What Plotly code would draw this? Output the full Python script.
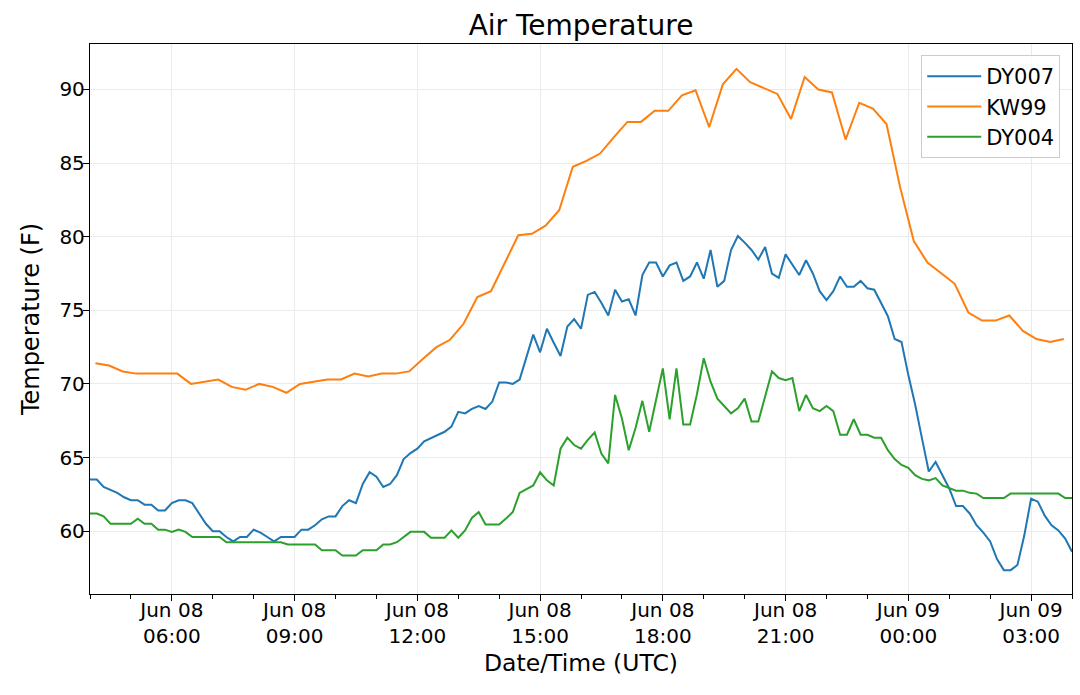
import pandas as pd
import plotly.graph_objects as go

# datos (grados F)
tiempos_dy = pd.date_range("2018-06-08 04:00", periods=145, freq="10min")
tiempos_kw = pd.date_range("2018-06-08 04:08", periods=72, freq="20min")

dy007 = [
    63.5, 63.5, 63.0, 62.8, 62.6, 62.3, 62.1, 62.1, 61.8, 61.8,
    61.4, 61.4, 61.9, 62.1, 62.1, 61.9, 61.2, 60.5, 60.0, 60.0,
    59.6, 59.3, 59.6, 59.6, 60.1, 59.9, 59.6, 59.3, 59.6, 59.6,
    59.6, 60.1, 60.1, 60.4, 60.8, 61.0, 61.0, 61.7, 62.1, 61.9,
    63.2, 64.0, 63.7, 63.0, 63.2, 63.8, 64.9, 65.3, 65.6, 66.1,
    66.3, 66.5, 66.75, 67.1, 68.1, 68.0, 68.3, 68.5, 68.3, 68.8,
    70.1, 70.1, 70.0, 70.3, 71.75, 73.35, 72.15, 73.75, 72.8, 71.9,
    73.9, 74.4, 73.75, 76.05, 76.25, 75.5, 74.65, 76.4, 75.6, 75.75,
    74.65, 77.4, 78.25, 78.25, 77.3, 78.05, 78.25, 77.0, 77.3, 78.25,
    77.15, 79.1, 76.6, 77.0, 79.1, 80.05, 79.6, 79.1, 78.45, 79.3,
    77.5, 77.2, 78.8, 78.1, 77.4, 78.4, 77.5, 76.3, 75.7, 76.3,
    77.3, 76.6, 76.6, 77.0, 76.5, 76.4, 75.5, 74.6, 73.05, 72.85,
    70.6, 68.6, 66.3, 64.05, 64.7, 63.8, 62.9, 61.7, 61.7, 61.2,
    60.4, 59.9, 59.3, 58.1, 57.35, 57.35, 57.7, 59.7, 62.2, 62.0,
    61.05, 60.4, 60.05, 59.5, 58.6,
]

kw99 = [
    71.4, 71.25, 70.85, 70.7, 70.7, 70.7, 70.7, 70.0, 70.15, 70.3,
    69.8, 69.6, 70.0, 69.8, 69.4, 70.0, 70.15, 70.3, 70.3, 70.7,
    70.5, 70.7, 70.7, 70.85, 71.7, 72.5, 73.0, 74.1, 75.9, 76.3,
    78.2, 80.1, 80.2, 80.75, 81.8, 84.75, 85.15, 85.65, 86.75, 87.8,
    87.8, 88.55, 88.55, 89.6, 89.95, 87.45, 90.35, 91.4, 90.5, 90.1,
    89.7, 88.0, 90.85, 90.0, 89.8, 86.6, 89.1, 88.7, 87.65, 83.35,
    79.7, 78.25, 77.55, 76.8, 74.85, 74.3, 74.3, 74.65, 73.6, 73.05,
    72.85, 73.05,
]

dy004 = [
    61.2, 61.2, 61.0, 60.5, 60.5, 60.5, 60.5, 60.85, 60.5, 60.5,
    60.1, 60.1, 59.95, 60.1, 59.95, 59.6, 59.6, 59.6, 59.6, 59.6,
    59.25, 59.25, 59.25, 59.25, 59.25, 59.25, 59.25, 59.25, 59.25, 59.1,
    59.1, 59.1, 59.1, 59.1, 58.7, 58.7, 58.7, 58.35, 58.35, 58.35,
    58.7, 58.7, 58.7, 59.1, 59.1, 59.25, 59.6, 59.95, 59.95, 59.95,
    59.55, 59.55, 59.55, 60.05, 59.55, 60.05, 60.9, 61.3, 60.45, 60.45,
    60.45, 60.85, 61.3, 62.6, 62.85, 63.1, 64.0, 63.45, 63.1, 65.6,
    66.35, 65.85, 65.6, 66.2, 66.7, 65.25, 64.6, 69.25, 67.65, 65.5,
    67.0, 68.85, 66.75, 69.0, 71.05, 67.6, 71.05, 67.25, 67.25, 69.3,
    71.75, 70.15, 69.0, 68.5, 68.0, 68.35, 69.0, 67.45, 67.45, 69.15,
    70.85, 70.4, 70.25, 70.4, 68.15, 69.25, 68.35, 68.15, 68.5, 68.15,
    66.55, 66.55, 67.6, 66.55, 66.55, 66.35, 66.35, 65.5, 64.9, 64.5,
    64.3, 63.8, 63.55, 63.45, 63.6, 63.1, 62.9, 62.75, 62.75, 62.6,
    62.55, 62.25, 62.25, 62.25, 62.25, 62.55, 62.55, 62.55, 62.55, 62.55,
    62.55, 62.55, 62.55, 62.25, 62.25,
]

series = [
    ("DY007", tiempos_dy, dy007, "#1f77b4"),
    ("KW99", tiempos_kw, kw99, "#ff7f0e"),
    ("DY004", tiempos_dy, dy004, "#2ca02c"),
]

fig = go.Figure()
for nombre, t, v, color in series:
    fig.add_trace(go.Scatter(x=t, y=v, mode="lines", name=nombre,
                             line=dict(color=color, width=2)))

fuente = "DejaVu Sans"
ejes = dict(showline=True, mirror=True, linecolor="black", linewidth=1.3,
            ticks="outside", ticklen=6, tickcolor="black", tickwidth=1.2,
            showgrid=True, gridcolor="#ebebeb", gridwidth=1, zeroline=False,
            automargin=False,
            tickfont=dict(family=fuente, size=20, color="black"))

fig.update_layout(
    width=1080, height=695,
    margin=dict(l=90, r=8, t=44, b=101),
    paper_bgcolor="white", plot_bgcolor="white",
    font=dict(family=fuente, color="black"),
    title=dict(text="Air Temperature", x=0.5, xref="paper", xanchor="center",
               y=1 - 25 / 695, yanchor="middle",
               font=dict(family=fuente, size=28, color="black")),
    legend=dict(x=0.988, y=0.98, xanchor="right", yanchor="top",
                bgcolor="rgba(255,255,255,0.8)", bordercolor="#cccccc",
                borderwidth=1, itemwidth=54,
                font=dict(family=fuente, size=21)),
    showlegend=True,
)

fig.update_xaxes(**ejes, type="date",
                 range=["2018-06-08 04:00", "2018-06-09 04:00"],
                 tick0="2018-06-08 00:00", dtick=3 * 3600000,
                 tickformat="%b %d<br>%H:%M",
                 ticklabelstandoff=-8,
                 minor=dict(dtick=3600000, ticks="outside", ticklen=4,
                            tickcolor="black", showgrid=False),
                 title=dict(text="Date/Time (UTC)", standoff=7,
                            font=dict(family=fuente, size=23.5)))

fig.update_yaxes(**ejes, range=[55.73, 93.09], dtick=5, tick0=0,
                 ticklabelstandoff=-6,
                 title=dict(text="Temperature (F)", standoff=12,
                            font=dict(family=fuente, size=24)))

# quitar el margen del body para que la figura quede en (0, 0)
fig.write_html("out.html", config={"displayModeBar": False},
               post_script="document.body.style.margin='0';")
